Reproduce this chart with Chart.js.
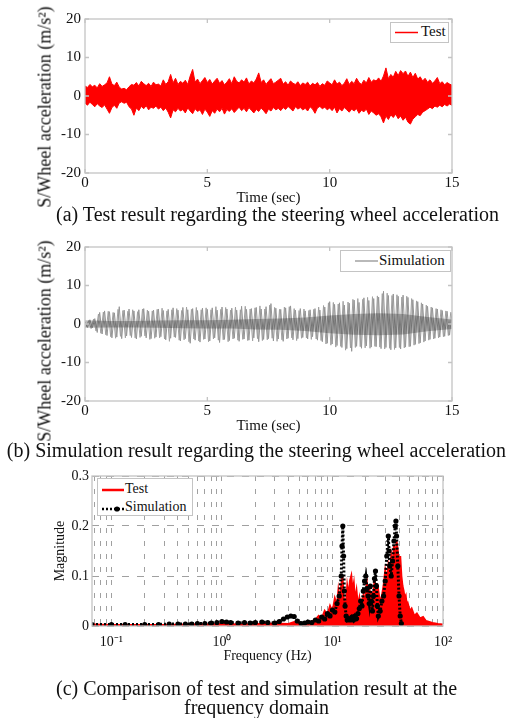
<!DOCTYPE html>
<html>
<head>
<meta charset="utf-8">
<title>Steering wheel acceleration: test vs simulation</title>
<script src="https://cdn.jsdelivr.net/npm/chart.js@4.4.1/dist/chart.umd.min.js"></script>
<style>
  html, body { margin: 0; padding: 0; background: #fff; }
  body { width: 513px; height: 718px; position: relative; overflow: hidden;
         font-family: "Liberation Serif", "Times New Roman", serif; color: #111; }
  canvas { position: absolute; left: 0; }
  .ytitle { position: absolute; white-space: nowrap; font-size: 18px;
            transform: translate(-50%, -50%) rotate(-90deg); }
  .caption { position: absolute; left: 0; width: 513px; text-align: center;
             font-size: 20px; line-height: 19px; white-space: nowrap; }
  .legend { position: absolute; background: #fff; border: 1px solid #c4c4c4;
            box-sizing: border-box; }
  .legend svg, .legend span { position: absolute; }
</style>
</head>
<body>

<canvas id="chartA" width="513" height="207" style="top:0px"></canvas>
<div class="ytitle" style="left:45px; top:107px;">S/Wheel acceleration (m/s²)</div>
<div class="legend" style="left:390px; top:22px; width:59px; height:21px; font-size:15px;">
  <svg width="24" height="19" style="left:4px; top:0px"><line x1="0" y1="9.5" x2="23" y2="9.5" stroke="#ff0000" stroke-width="1.5"/></svg>
  <span style="left:30px; top:0px;">Test</span>
</div>
<div class="caption" style="top:205px; left:21px;">(a) Test result regarding the steering wheel acceleration</div>

<canvas id="chartB" width="513" height="207" style="top:228px"></canvas>
<div class="ytitle" style="left:45px; top:341px;">S/Wheel acceleration (m/s²)</div>
<div class="legend" style="left:340px; top:250px; width:111px; height:22px; font-size:15px;">
  <svg width="24" height="20" style="left:14px; top:0px"><line x1="0" y1="10" x2="23" y2="10" stroke="#8a8a8a" stroke-width="1.2"/></svg>
  <span style="left:38px; top:1px;">Simulation</span>
</div>
<div class="caption" style="top:441px;">(b) Simulation result regarding the steering wheel acceleration</div>

<canvas id="chartC" width="513" height="205" style="top:460px"></canvas>
<div class="legend" style="left:97px; top:478px; width:96px; height:38px; font-size:14px;">
  <svg width="24" height="16" style="left:4px; top:3px"><line x1="0" y1="8" x2="22" y2="8" stroke="#ff0000" stroke-width="2.5"/></svg>
  <span style="left:27px; top:2px;">Test</span>
  <svg width="24" height="16" style="left:4px; top:22px"><line x1="0" y1="8" x2="22" y2="8" stroke="#000" stroke-width="2.5" stroke-dasharray="2,2"/><circle cx="15" cy="8" r="2.6" fill="#000"/></svg>
  <span style="left:27px; top:20px;">Simulation</span>
</div>
<div class="caption" style="top:679px;">(c) Comparison of test and simulation result at the<br>frequency domain</div>

<script>
// Steering wheel acceleration - test vs simulation (time and frequency domain)

// Sampling step of the time traces (sec)
const tStep = 0.1;

// (a) Test trace: upper and lower envelope of the red band, one value per 0.1 s (0 .. 15 s)
const testUpper = [
  2.6, 2.2, 3.0, 2.4, 2.8, 2.1, 3.2, 2.5, 2.9, 3.4,
  5.0, 3.1, 2.7, 3.6, 2.3, 1.8, 2.0, 1.6, 2.4, 3.0,
  2.8, 3.5, 2.6, 3.8, 3.2, 2.7, 3.3, 2.5, 3.6, 2.9,
  3.1, 2.6, 4.2, 3.0, 3.7, 5.6, 3.4, 4.6, 3.0, 3.8,
  3.3, 4.1, 3.0, 5.2, 6.9, 3.6, 4.4, 3.2, 4.0, 4.8,
  3.5, 4.3, 3.1, 3.9, 4.6, 3.3, 4.0, 2.9, 3.6, 4.5,
  3.2, 5.0, 3.8, 3.4, 4.2, 3.6, 4.7, 3.1, 3.9, 3.4,
  4.4, 6.0, 3.5, 4.2, 3.0, 3.8, 4.5, 3.2, 3.6, 4.1,
  4.6, 3.1, 3.7, 2.8, 3.9, 3.3, 3.0, 3.7, 2.7, 3.4,
  3.0, 3.6, 2.6, 3.3, 2.9, 3.5, 2.5, 3.2, 2.8, 3.9,
  3.4, 2.9, 4.2, 3.1, 3.6, 2.7, 3.3, 4.5, 3.0, 3.8,
  3.2, 4.6, 3.5, 3.0, 4.1, 3.4, 4.8, 3.6, 4.2, 3.9,
  4.7, 3.8, 5.2, 7.3, 4.5, 5.6, 4.9, 6.4, 5.3, 6.6,
  5.8, 6.5, 5.1, 6.2, 4.8, 5.9, 4.4, 5.0, 3.9, 4.6,
  3.6, 4.2, 3.3, 3.9, 4.8, 3.2, 3.7, 2.9, 3.5, 3.1,
  2.8
];
const testLower = [
  -1.8, -2.4, -1.6, -2.2, -2.8, -2.0, -2.6, -3.0, -2.3, -3.4,
  -4.5, -3.0, -2.4, -3.2, -1.8, -1.5, -1.9, -1.6, -2.8, -3.4,
  -5.0, -3.1, -3.8, -2.7, -3.3, -2.5, -3.6, -2.9, -3.2, -2.6,
  -3.4, -2.9, -3.8, -3.1, -4.2, -5.7, -3.6, -4.1, -3.2, -3.9,
  -3.5, -4.4, -3.1, -3.9, -4.6, -3.3, -4.0, -3.6, -4.8, -3.4,
  -4.2, -5.3, -3.8, -4.5, -3.4, -4.1, -3.2, -4.7, -3.5, -4.0,
  -3.3, -4.3, -3.6, -2.9, -3.8, -3.2, -4.1, -3.0, -3.7, -4.4,
  -3.5, -4.0, -3.1, -3.8, -4.6, -3.4, -3.9, -3.0, -3.6, -3.2,
  -3.8, -3.0, -3.5, -2.7, -3.3, -3.9, -2.8, -3.4, -3.0, -3.6,
  -3.2, -3.9, -2.8, -3.4, -4.5, -3.1, -2.7, -3.3, -2.9, -3.6,
  -3.1, -3.8, -2.9, -4.4, -3.3, -3.9, -3.0, -3.6, -4.2, -3.4,
  -3.9, -3.3, -4.5, -3.7, -4.1, -3.4, -4.8, -3.9, -4.4, -5.0,
  -4.6, -5.4, -7.0, -5.2, -6.1, -4.9, -5.6, -4.7, -5.9, -5.2,
  -6.3, -5.5, -6.8, -7.3, -6.0, -5.4, -4.8, -5.1, -4.2, -3.8,
  -3.4, -2.9, -3.3, -2.6, -2.9, -2.4, -2.8, -2.2, -2.6, -2.1,
  -2.4
];

// (b) Simulation trace, one value per 0.1 s (0 .. 15 s)
const simTrace = [
  0.6, -0.9, 1.1, -1.0, 1.4, -2.2, 3.0, -2.6, 3.4, -3.0,
  3.2, -3.6, 2.9, -3.4, 4.5, -3.8, 3.6, -3.1, 3.9, -3.5,
  3.4, -3.9, 3.7, -3.2, 4.0, -3.6, 3.3, -3.8, 3.6, -3.4,
  3.9, -3.3, 3.5, -4.1, 3.8, -3.7, 4.2, -3.5, 3.6, -4.4,
  4.3, -3.8, 3.7, -5.0, 4.0, -4.2, 3.5, -4.7, 4.1, -3.9,
  3.8, -4.4, 4.2, -3.6, 3.6, -4.8, 4.4, -4.0, 3.9, -4.3,
  4.1, -3.7, 3.6, -4.5, 4.6, -3.9, 3.8, -4.2, 4.0, -3.6,
  4.3, -4.6, 3.9, -4.0, 4.5, -3.8, 5.3, -4.4, 4.1, -3.9,
  3.8, -4.5, 4.2, -3.7, 4.7, -4.1, 3.6, -3.8, 4.0, -3.5,
  3.4, -3.9, 3.7, -3.3, 4.0, -4.2, 3.6, -4.6, 4.4, -5.0,
  5.8, -5.2, 5.1, -5.6, 5.5, -6.1, 4.9, -6.4, 5.4, -7.1,
  6.2, -5.8, 5.6, -6.3, 6.8, -5.7, 6.1, -6.0, 6.6, -5.9,
  7.0, -6.4, 8.5, -6.1, 7.4, -6.7, 7.8, -6.2, 7.2, -6.5,
  7.5, -6.0, 6.9, -5.8, 6.3, -5.3, 5.8, -4.9, 5.2, -4.4,
  4.6, -4.0, 4.2, -3.7, 3.9, -3.4, 3.5, -3.2, 3.3, -2.9,
  3.0
];
// (b) the same trace read between those samples (0.05 .. 14.95 s)
const simTraceMid = [
  -0.7, 0.9, -1.2, 1.3, -1.8, 2.6, -2.4, 3.1, -2.8, 3.3,
  -3.3, 3.0, -3.7, 3.8, -3.2, 3.5, -3.6, 3.3, -3.0, 3.7,
  -3.6, 3.2, -3.5, 3.9, -3.1, 3.6, -4.0, 3.4, -3.7, 3.8,
  -3.6, 4.1, -3.9, 3.4, -4.5, 3.7, -3.4, 4.0, -4.2, 3.5,
  -4.1, 4.4, -4.6, 3.8, -3.9, 4.3, -4.4, 3.7, -4.0, 4.2,
  -4.6, 3.7, -3.9, 4.5, -4.2, 3.8, -4.1, 4.3, -4.6, 3.6,
  -3.9, 4.4, -4.2, 3.7, -4.0, 4.6, -4.3, 3.9, -4.4, 4.2,
  -3.8, 4.7, -4.3, 3.9, -4.1, 4.9, -3.7, 4.3, -4.5, 3.8,
  -4.1, 4.4, -3.9, 4.5, -3.6, 4.0, -4.3, 3.5, -3.7, 3.9,
  -3.6, 3.5, -4.0, 3.8, -3.9, 4.4, -4.3, 4.8, -5.2, 5.5,
  -5.5, 5.6, -6.0, 5.2, -5.8, 5.9, -6.8, 5.7, -6.2, 6.4,
  -6.1, 6.6, -5.9, 6.4, -6.2, 6.9, -6.3, 7.1, -5.8, 7.3,
  -6.0, 7.9, -6.5, 8.0, -6.3, 7.4, -6.6, 7.6, -6.1, 7.0,
  -6.2, 7.2, -5.9, 6.6, -5.5, 6.0, -5.1, 5.5, -4.7, 4.9,
  -4.2, 4.4, -3.9, 4.0, -3.6, 3.7, -3.3, 3.4, -3.0, 3.1
];
// (b) darker core of the simulation trace, one value per second
const coreTime  = [0, 1, 2, 3, 4, 5, 6, 7, 8, 9, 10, 11, 12, 13, 14, 15];
const coreUpper = [1.0, 0.8, 0.8, 0.9, 1.0, 1.0, 1.1, 1.3, 1.4, 1.7, 2.2, 2.6, 2.8, 2.6, 1.8, 1.2];
const coreLower = [-1.0, -0.9, -0.9, -1.0, -1.1, -1.2, -1.2, -1.4, -1.5, -1.8, -2.4, -2.8, -2.9, -2.7, -1.9, -1.3];

// (c) Frequency domain
const freqTest = [0.0667, 0.1, 0.15, 0.2, 0.3, 0.5, 0.7, 1, 1.5, 2,
  3, 4, 4.5, 5, 6, 7, 7.5, 8, 8.5, 9,
  9.5, 10, 10.5, 11, 11.3, 11.6, 12, 12.3, 12.6, 13,
  13.3, 13.6, 14, 14.4, 14.8, 15.2, 15.6, 16, 16.5, 17,
  17.5, 18, 18.5, 19, 19.5, 20, 20.5, 21, 21.5, 22,
  22.5, 23, 23.5, 24, 24.5, 25, 25.5, 26, 27, 28,
  29, 30, 31, 32, 33, 34, 35, 36, 37, 38,
  39, 40, 41, 42, 43, 44, 45, 46, 47, 48,
  50, 52, 55, 58, 62, 66, 70, 75, 80, 85,
  90, 100];
const magTest = [0.003, 0.002, 0.002, 0.002, 0.002, 0.003, 0.003, 0.004, 0.003, 0.004,
  0.005, 0.004, 0.008, 0.004, 0.006, 0.012, 0.02, 0.015, 0.03, 0.022,
  0.04, 0.028, 0.055, 0.04, 0.07, 0.05, 0.08, 0.1, 0.06, 0.03,
  0.05, 0.08, 0.06, 0.09, 0.1, 0.07, 0.085, 0.05, 0.07, 0.04,
  0.055, 0.03, 0.05, 0.06, 0.04, 0.07, 0.085, 0.06, 0.08, 0.05,
  0.07, 0.04, 0.065, 0.09, 0.06, 0.08, 0.05, 0.07, 0.045, 0.06,
  0.08, 0.11, 0.09, 0.12, 0.1, 0.14, 0.12, 0.16, 0.13, 0.17,
  0.15, 0.12, 0.14, 0.1, 0.08, 0.07, 0.055, 0.06, 0.04, 0.045,
  0.03, 0.035, 0.02, 0.025, 0.015, 0.018, 0.01, 0.008, 0.006, 0.005,
  0.004, 0.003];
const freqSim = [0.0667, 0.1, 0.133, 0.2, 0.267, 0.333, 0.4, 0.467, 0.533, 0.6,
  0.7, 0.8, 0.9, 1.0, 1.1, 1.2, 1.4, 1.6, 1.8, 2.0,
  2.3, 2.6, 3.0, 3.3, 3.6, 3.9, 4.2, 4.5, 4.8, 5.2,
  5.6, 6.0, 6.5, 7.0, 7.5, 8.0, 8.5, 9.0, 9.5, 10.0,
  10.5, 11.0, 11.5, 12.0, 12.2, 12.4, 12.6, 12.8, 13.0, 13.3,
  13.6, 14.0, 14.5, 15.0, 15.5, 16.0, 16.5, 17.0, 17.5, 18.0,
  18.5, 19.0, 19.5, 20.0, 20.5, 21.0, 21.5, 22.0, 22.5, 23.0,
  23.5, 24.0, 24.5, 25.0, 25.5, 26.0, 27, 28, 29, 30,
  31, 32, 32.5, 33, 34, 35, 36, 37, 37.5, 38,
  39, 40, 41, 42];
const magSim = [0.003, 0.003, 0.003, 0.003, 0.003, 0.004, 0.004, 0.004, 0.004, 0.005,
  0.005, 0.006, 0.007, 0.009, 0.008, 0.007, 0.006, 0.007, 0.006, 0.007,
  0.008, 0.007, 0.006, 0.009, 0.014, 0.018, 0.02, 0.019, 0.01, 0.005,
  0.006, 0.008, 0.007, 0.012, 0.01, 0.018, 0.014, 0.025, 0.02, 0.032,
  0.028, 0.045, 0.06, 0.1, 0.16, 0.2, 0.14, 0.07, 0.04, 0.02,
  0.012, 0.015, 0.012, 0.018, 0.012, 0.02, 0.015, 0.025, 0.035, 0.05,
  0.04, 0.07, 0.09, 0.1, 0.075, 0.06, 0.045, 0.08, 0.05, 0.03,
  0.06, 0.095, 0.11, 0.08, 0.04, 0.02, 0.03, 0.05, 0.06, 0.09,
  0.14, 0.18, 0.15, 0.12, 0.1, 0.13, 0.17, 0.2, 0.21, 0.18,
  0.12, 0.06, 0.02, 0.005];

// Tick values
const timeTicks = [0, 5, 10, 15];
const accelTicks = [-20, -10, 0, 10, 20];
const magTicks = [0, 0.1, 0.2, 0.3];
const decades = [0.01, 0.1, 1, 10];

// Helpers
const inkColor = '#111111';
const frameColor = '#c4c4c4';
const serif = '"Liberation Serif", "Times New Roman", serif';

function toPoints(xs, ys) {
    return ys.map((y, i) => ({ x: xs[i], y: y }));
}

const timeAxis = testUpper.map((_, i) => +(i * tStep).toFixed(2));
const timeAxisMid = simTraceMid.map((_, i) => +(i * tStep + tStep / 2).toFixed(2));

function superscript(n) {
    const map = { '-': '⁻', '0': '⁰', '1': '¹', '2': '²', '3': '³' };
    return String(n).split('').map(c => map[c]).join('');
}

// Draw the light grey box round the plot area plus small inward ticks
const framePlugin = {
    id: 'frame',
    afterDraw(chart, args, opts) {
        const { ctx, chartArea: a } = chart;
        const len = opts.tickLength || 0;
        ctx.save();
        ctx.strokeStyle = frameColor;
        ctx.lineWidth = 1.3;
        if (len) {
            const xs = chart.scales.x, ys = chart.scales.y;
            ctx.beginPath();
            xs.ticks.forEach(t => {
                const px = xs.getPixelForValue(t.value);
                ctx.moveTo(px, a.bottom); ctx.lineTo(px, a.bottom - len);
                ctx.moveTo(px, a.top); ctx.lineTo(px, a.top + len);
            });
            ys.ticks.forEach(t => {
                const py = ys.getPixelForValue(t.value);
                ctx.moveTo(a.left, py); ctx.lineTo(a.left + len, py);
                ctx.moveTo(a.right, py); ctx.lineTo(a.right - len, py);
            });
            ctx.stroke();
        }
        ctx.strokeRect(a.left, a.top, a.right - a.left, a.bottom - a.top);
        ctx.restore();
    }
};

// Shared options for the two time plots
function timeOptions(topPad) {
    return {
        responsive: false,
        animation: false,
        layout: { padding: { top: topPad, right: 61, left: 0, bottom: 0 } },
        plugins: {
            legend: { display: false },
            tooltip: { enabled: false },
            frame: { tickLength: 4 }
        },
        elements: { point: { radius: 0 }, line: { tension: 0 } },
        scales: {
            x: {
                type: 'linear', min: 0, max: 15,
                afterBuildTicks(s) { s.ticks = timeTicks.map(v => ({ value: v })); },
                afterFit(s) { s.height = 34; },
                ticks: { font: { family: serif, size: 15 }, color: inkColor, padding: 1, maxRotation: 0 },
                grid: { display: false, drawTicks: false },
                border: { display: false },
                title: { display: true, text: 'Time (sec)', font: { family: serif, size: 15 }, color: inkColor, padding: 0 }
            },
            y: {
                type: 'linear', min: -20, max: 20,
                afterBuildTicks(s) { s.ticks = accelTicks.map(v => ({ value: v })); },
                afterFit(s) { s.width = 85; },
                ticks: { font: { family: serif, size: 15 }, color: inkColor, padding: 4 },
                grid: { display: false, drawTicks: false },
                border: { display: false }
            }
        }
    };
}

// Render test result chart (a)
function renderTestChart() {
    new Chart(document.getElementById('chartA'), {
        type: 'line',
        data: {
            datasets: [{
                label: 'Test',
                data: toPoints(timeAxis, testUpper),
                borderColor: '#ff0000',
                backgroundColor: '#ff0000',
                borderWidth: 1,
                fill: '+1'
            }, {
                label: 'Test (lower)',
                data: toPoints(timeAxis, testLower),
                borderColor: '#ff0000',
                borderWidth: 1,
                fill: false
            }]
        },
        options: timeOptions(19),
        plugins: [framePlugin]
    });
}

// Render simulation result chart (b)
function renderSimulationChart() {
    new Chart(document.getElementById('chartB'), {
        type: 'line',
        data: {
            datasets: [{
                label: 'Simulation core',
                data: toPoints(coreTime, coreUpper),
                borderColor: 'rgba(0,0,0,0)',
                backgroundColor: 'rgba(35,35,35,0.3)',
                borderWidth: 0,
                fill: '+1'
            }, {
                label: 'Simulation core (lower)',
                data: toPoints(coreTime, coreLower),
                borderColor: 'rgba(0,0,0,0)',
                borderWidth: 0,
                fill: false
            }, {
                label: 'Simulation',
                data: toPoints(timeAxis, simTrace),
                borderColor: '#959595',
                borderWidth: 1,
                fill: false
            }, {
                label: 'Simulation (mid samples)',
                data: toPoints(timeAxisMid, simTraceMid),
                borderColor: '#a0a0a0',
                borderWidth: 1,
                fill: false
            }]
        },
        options: timeOptions(19),
        plugins: [framePlugin]
    });
}

// Render frequency domain comparison chart (c)
function renderFrequencyChart() {
    const logTicks = [];
    decades.forEach(d => {
        for (let m = 1; m <= 9; m++) logTicks.push(+(m * d).toPrecision(3));
    });
    logTicks.push(100);
    new Chart(document.getElementById('chartC'), {
        type: 'line',
        data: {
            datasets: [{
                label: 'Simulation',
                data: toPoints(freqSim, magSim),
                borderColor: '#000000',
                backgroundColor: '#000000',
                borderWidth: 3,
                borderDash: [2, 2],
                pointRadius: 2.6,
                pointBackgroundColor: '#000000',
                pointBorderWidth: 0,
                fill: false
            }, {
                label: 'Test',
                data: toPoints(freqTest, magTest),
                borderColor: '#ff0000',
                backgroundColor: '#ff0000',
                borderWidth: 2,
                pointRadius: 0,
                fill: 'origin'
            }]
        },
        options: {
            responsive: false,
            animation: false,
            layout: { padding: { top: 16, right: 70, left: 0, bottom: 0 } },
            plugins: {
                legend: { display: false },
                tooltip: { enabled: false },
                frame: { tickLength: 0 }
            },
            elements: { line: { tension: 0 } },
            scales: {
                x: {
                    type: 'logarithmic', min: 0.0667, max: 100,
                    afterBuildTicks(s) {
                        s.ticks = logTicks.filter(v => v >= 0.0667).map(v => ({ value: v }));
                    },
                    afterFit(s) { s.height = 39; },
                    ticks: {
                        autoSkip: false, maxRotation: 0, padding: 8,
                        font: { family: serif, size: 14 }, color: inkColor,
                        callback(v) {
                            const e = Math.log10(v);
                            return Math.abs(e - Math.round(e)) < 1e-6 ? '10' + superscript(Math.round(e)) : '';
                        }
                    },
                    grid: { color: '#a0a0a0', lineWidth: 1, drawTicks: false },
                    border: { display: false, dash: [5, 8] },
                    title: { display: true, text: 'Frequency (Hz)', font: { family: serif, size: 14 }, color: inkColor, padding: 0 }
                },
                y: {
                    type: 'linear', min: 0, max: 0.3,
                    afterBuildTicks(s) { s.ticks = magTicks.map(v => ({ value: v })); },
                    afterFit(s) { s.width = 92; },
                    ticks: { font: { family: serif, size: 14 }, color: inkColor, padding: 3 },
                    grid: { color: '#a0a0a0', lineWidth: 1, drawTicks: false },
                    border: { display: false, dash: [7, 8] },
                    title: { display: true, text: 'Magnitude', font: { family: serif, size: 14 }, color: inkColor, padding: { top: 52, bottom: 0 } }
                }
            }
        },
        plugins: [framePlugin]
    });
}

renderTestChart();
renderSimulationChart();
renderFrequencyChart();
</script>
</body>
</html>
